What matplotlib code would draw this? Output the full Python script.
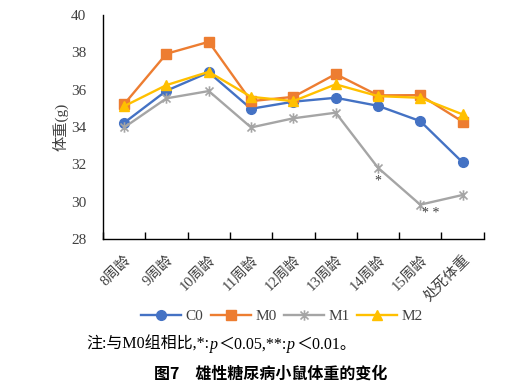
import matplotlib
matplotlib.use("Agg")
import matplotlib.pyplot as plt
from matplotlib.path import Path
from matplotlib.offsetbox import TextArea, HPacker, AnchoredOffsetbox

plt.rcParams['font.family'] = ['Liberation Serif', 'Noto Sans CJK SC']

categories = ["8周龄", "9周龄", "10周龄", "11周龄", "12周龄", "13周龄", "14周龄", "15周龄", "处死体重"]
C0 = [34.23, 35.95, 36.93, 34.98, 35.36, 35.57, 35.14, 34.32, 32.11]
M0 = [35.23, 37.93, 38.57, 35.39, 35.62, 36.84, 35.70, 35.71, 34.29]
M1 = [33.98, 35.54, 35.93, 33.98, 34.47, 34.77, 31.82, 29.84, 30.36]
M2 = [35.12, 36.25, 36.96, 35.62, 35.39, 36.29, 35.66, 35.57, 34.68]
yticks = [28, 30, 32, 34, 36, 38, 40]

star = Path([(-1, -1), (1, 1), (-1, 1), (1, -1), (0, -1.3), (0, 1.3)],
            [Path.MOVETO, Path.LINETO, Path.MOVETO, Path.LINETO, Path.MOVETO, Path.LINETO])

fig = plt.figure(figsize=(5.11, 3.88), dpi=100)
ax = fig.add_axes([0.2016, 0.384, 0.745, 0.577])
x = list(range(len(categories)))
ax.plot(x, C0, color='#4472C4', marker='o', markersize=7, lw=1.7, label='C0')
ax.plot(x, M0, color='#ED7D31', marker='s', markersize=6.5, lw=1.7, label='M0')
ax.plot(x, M1, color='#A5A5A5', marker=star, markersize=7.5, mew=1.2, lw=1.7, label='M1')
ax.plot(x, M2, color='#FFC000', marker='^', markersize=7.5, lw=1.7, label='M2')

ax.text(6, M1[6] - 0.35, '*', ha='center', va='top', fontsize=10, color='#404040')
ax.text(7.25, M1[7] - 0.1, '* *', ha='center', va='top', fontsize=10, color='#404040')

ax.set_xlim(-0.5, len(categories) - 0.5)
ax.set_ylim(28, 40)
ax.set_yticks(yticks)
ax.set_xticks([i - 0.5 for i in range(len(categories) + 1)], minor=False)
ax.set_xticklabels([])
ax.set_xticks(x, minor=True)
ax.set_xticklabels(categories, minor=True, rotation=45, ha='right', rotation_mode='anchor',
                   fontsize=10.5, color='#404040')
ax.tick_params(axis='x', which='major', direction='in', length=5, width=1, color='black')
ax.tick_params(axis='x', which='minor', length=0, pad=10)
ax.tick_params(axis='y', length=0, labelsize=11, labelcolor='#404040', pad=12)
for s in ['top', 'right']:
    ax.spines[s].set_visible(False)
ax.spines['left'].set_linewidth(1.0)
ax.spines['bottom'].set_linewidth(1.0)
ax.set_ylabel('体重(g)', fontsize=11, color='#404040', labelpad=2)

fig.legend(loc='center', bbox_to_anchor=(0.552, 0.185), ncol=4, frameon=False,
           fontsize=11, handlelength=2.6, columnspacing=0.5, handletextpad=0.3,
           labelcolor='#404040')

parts = [('注:与M0组相比,*:', 'normal'), ('p', 'italic'), ('＜0.05,**:', 'normal'),
         ('p', 'italic'), ('＜0.01。', 'normal')]
areas = [TextArea(t, textprops=dict(fontsize=11.5, style=st, color='black')) for t, st in parts]
box = HPacker(children=areas, align='baseline', pad=0, sep=0.5)
anch = AnchoredOffsetbox(loc='center left', child=box, pad=0, frameon=False,
                         bbox_to_anchor=(0.168, 0.111), bbox_transform=fig.transFigure,
                         borderpad=0)
fig.add_artist(anch)

fig.text(0.53, 0.036, '图7　雄性糖尿病小鼠体重的变化', fontsize=11.5, ha='center', va='center',
         fontweight='bold', family=['Noto Sans CJK SC'])

fig.savefig('out.png', dpi=100)
